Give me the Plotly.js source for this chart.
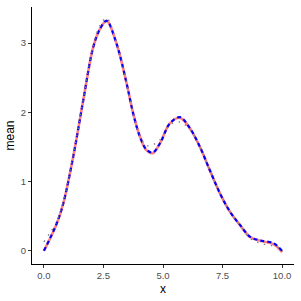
<!DOCTYPE html>
<html><head><meta charset="utf-8">
<script src="https://cdn.plot.ly/plotly-3.0.1.min.js"></script>
<style>html,body{margin:0;padding:0;background:#fff}</style>
</head><body><div id="chart" style="width:301px;height:301px"></div>
<script>
const xSmooth = [0, 0.53, 0.81, 1.23, 1.65, 2.07, 2.35, 2.63, 3.05, 3.47, 3.75, 4.03, 4.31, 4.57, 4.87, 5.29, 5.71, 6.13, 6.55, 6.97, 7.39, 7.82, 8.24, 8.66, 9.08, 9.64, 10];
const ySmooth = [0, 0.385, 0.68, 1.36, 2.17, 2.94, 3.2, 3.32, 2.99, 2.42, 1.98, 1.65, 1.45, 1.41, 1.55, 1.84, 1.92, 1.77, 1.50, 1.16, 0.83, 0.56, 0.37, 0.20, 0.145, 0.097, -0.02];
const xDashed = [0, 0.53, 0.81, 1.23, 1.65, 2.07, 2.35, 2.63, 3.05, 3.47, 3.75, 4.03, 4.31, 4.57, 4.87, 5.29, 5.71, 6.13, 6.55, 6.97, 7.39, 7.82, 8.24, 8.66, 9.08, 9.64, 10];
const yDashed = [0, 0.39, 0.68, 1.36, 2.17, 2.94, 3.2, 3.32, 2.99, 2.42, 1.98, 1.65, 1.46, 1.42, 1.55, 1.84, 1.93, 1.77, 1.50, 1.16, 0.83, 0.56, 0.37, 0.20, 0.15, 0.11, 0];
const xDotted = [0, 0.53, 0.81, 1.23, 1.65, 2.07, 2.35, 2.63, 3.05, 3.47, 3.75, 4.03, 4.31, 4.57, 4.87, 5.29, 5.71, 6.13, 6.55, 6.97, 7.39, 7.82, 8.24, 8.66, 9.08, 9.64, 10];
const yDotted = [0.13, 0.42, 0.7, 1.38, 2.18, 2.96, 3.25, 3.36, 3.0, 2.42, 1.98, 1.66, 1.52, 1.53, 1.6, 1.82, 1.86, 1.75, 1.50, 1.16, 0.83, 0.56, 0.36, 0.18, 0.11, 0.07, 0.03];
const xTicks = [0, 2.5, 5, 7.5, 10];
const xTickText = ['0.0', '2.5', '5.0', '7.5', '10.0'];
const yTicks = [0, 1, 2, 3];
const yTickText = ['0', '1', '2', '3'];

const traces = [
  {x: xSmooth, y: ySmooth, mode: 'lines', line: {color: '#FF8080', width: 2.6, shape: 'spline', smoothing: 1}, hoverinfo: 'skip'},
  {x: xDashed, y: yDashed, mode: 'lines', line: {color: '#0000FF', width: 2.1, dash: '4px,3px', shape: 'spline', smoothing: 1}, hoverinfo: 'skip'},
  {x: xDotted, y: yDotted, mode: 'lines', line: {color: '#7F7F7F', width: 1.4, dash: '1.4px,5.6px', shape: 'spline', smoothing: 1}, hoverinfo: 'skip'}
];
const axBase = {showgrid: false, zeroline: false, showline: true, linecolor: '#000', linewidth: 1,
  ticks: 'outside', ticklen: 3, tickcolor: '#333', tickwidth: 1,
  tickfont: {family: 'Liberation Sans, Arial, sans-serif', size: 9.5, color: '#4D4D4D'}};
const layout = {
  width: 301, height: 301,
  margin: {l: 32, r: 7, t: 7, b: 37},
  paper_bgcolor: '#fff', plot_bgcolor: '#fff',
  showlegend: false,
  xaxis: Object.assign({}, axBase, {range: [-0.5, 10.5], tickvals: xTicks, ticktext: xTickText,
    title: {text: 'x', font: {family: 'Liberation Sans, Arial, sans-serif', size: 12, color: '#000'}, standoff: 4}}),
  yaxis: Object.assign({}, axBase, {range: [-0.19, 3.52], tickvals: yTicks, ticktext: yTickText,
    title: {text: 'mean', font: {family: 'Liberation Sans, Arial, sans-serif', size: 12, color: '#000'}, standoff: 3}})
};
Plotly.newPlot('chart', traces, layout, {staticPlot: true, displayModeBar: false});
</script></body></html>
